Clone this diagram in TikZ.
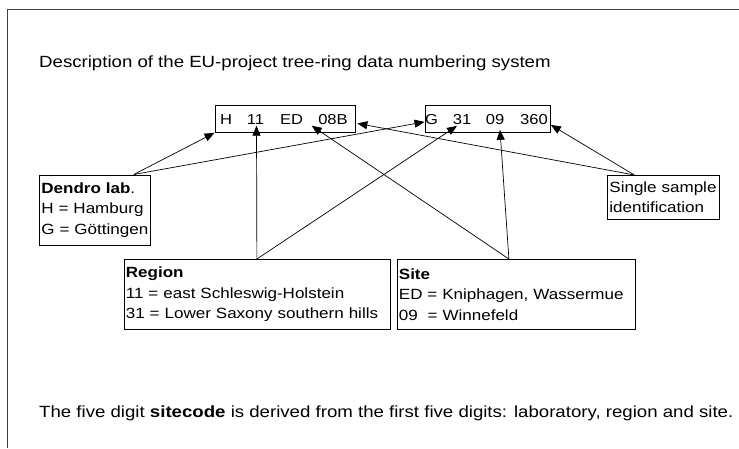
\documentclass[tikz,border=0pt]{standalone}
\usepackage{fontspec}
\setmainfont{Liberation Sans}[FakeStretch=1.15]
\usetikzlibrary{arrows.meta}

\tikzset{
	kasten/.style={draw, line width=0.8pt, inner sep=2pt, align=left, anchor=north west, font=\fontsize{14.8}{20.5}\selectfont},
	code/.style={inner sep=1.5pt, anchor=base},
	pfeil/.style={line width=0.7pt, -{Triangle[length=10pt,width=8pt]}},
	zeile/.style={anchor=base west, inner sep=0, font=\fontsize{16.2}{20}\selectfont},
}

\begin{document}
\begin{tikzpicture}[x=1pt, y=-1pt, font=\fontsize{14.4}{20.5}\selectfont]
\useasboundingbox (0,0) rectangle (739,448);
	%% Rahmen
	\draw[line width=1.2pt, black!75] (7.5,448) -- (7.5,9.5) -- (739,9.5);

	%% Ueberschrift und Fusszeile
	\node[zeile] (titel) at (39,67.5) {Description of the EU-project tree-ring data numbering system};
	\node[zeile] (fuss) at (39,417) {The five digit \textbf{sitecode} is derived from the first five digits: laboratory, region and site.};

	%%%%%%%%%%%%%%%%

	%% Codes
	\node[kasten, minimum width=140pt, minimum height=27pt] (code1) at (214.5,105) {};
	\node[code] (cH) at (226,124) {H};
	\node[code] (c11) at (255.5,124) {11};
	\node[code] (cED) at (291.5,124) {ED};
	\node[code] (c08B) at (333,124) {08B};

	\node[kasten, minimum width=125.5pt, minimum height=27pt] (code2) at (424.5,105) {};
	\node[code] (cG) at (431.5,124) {G};
	\node[code] (c31) at (462,124) {31};
	\node[code] (c09) at (495,124) {09};
	\node[code] (c360) at (534,124) {360};

	%% Erklaerungen
	\node[kasten, minimum width=111pt, minimum height=70pt, text width=107pt] (dendro) at (39,174.5) {\textbf{Dendro lab}.\\H = Hamburg\\G = Göttingen};
	\node[kasten, minimum width=266pt, minimum height=70pt, text width=262pt] (region) at (123.5,259) {\textbf{Region}\\11 = east Schleswig-Holstein\\31 = Lower Saxony southern hills};
	\node[kasten, minimum width=238pt, minimum height=70pt, text width=234pt] (site) at (396.5,259) {\textbf{Site}\\ED = Kniphagen, Wassermue\\09~ = Winnefeld};
	\node[kasten, minimum width=112pt, minimum height=44pt, text width=108pt] (single) at (607,175) {Single sample\\identification};

	%%%%%%%%%%%%%%%%

	%% Pfeile
	\draw[pfeil] ([xshift=-17pt]dendro.north east) -- (code1.south west);
	\draw[pfeil] ([xshift=-17pt]dendro.north east) -- ([yshift=-3pt]code2.west);
	\draw[pfeil] (region.north) -- ([xshift=1pt]c11.south);
	\draw[pfeil] (region.north) -- ([xshift=-5pt]c31.south);
	\draw[pfeil] ([xshift=-7pt]site.north) -- ([xshift=7pt]cED.south east);
	\draw[pfeil] ([xshift=-7pt]site.north) -- ([xshift=5pt,yshift=-4pt]c09.south);
	\draw[pfeil] ([xshift=-29pt]single.north) -- ([xshift=2pt,yshift=-4.5pt]code1.east);
	\draw[pfeil] ([xshift=-29pt]single.north) -- ([yshift=-6pt]code2.east);
\end{tikzpicture}
\end{document}
